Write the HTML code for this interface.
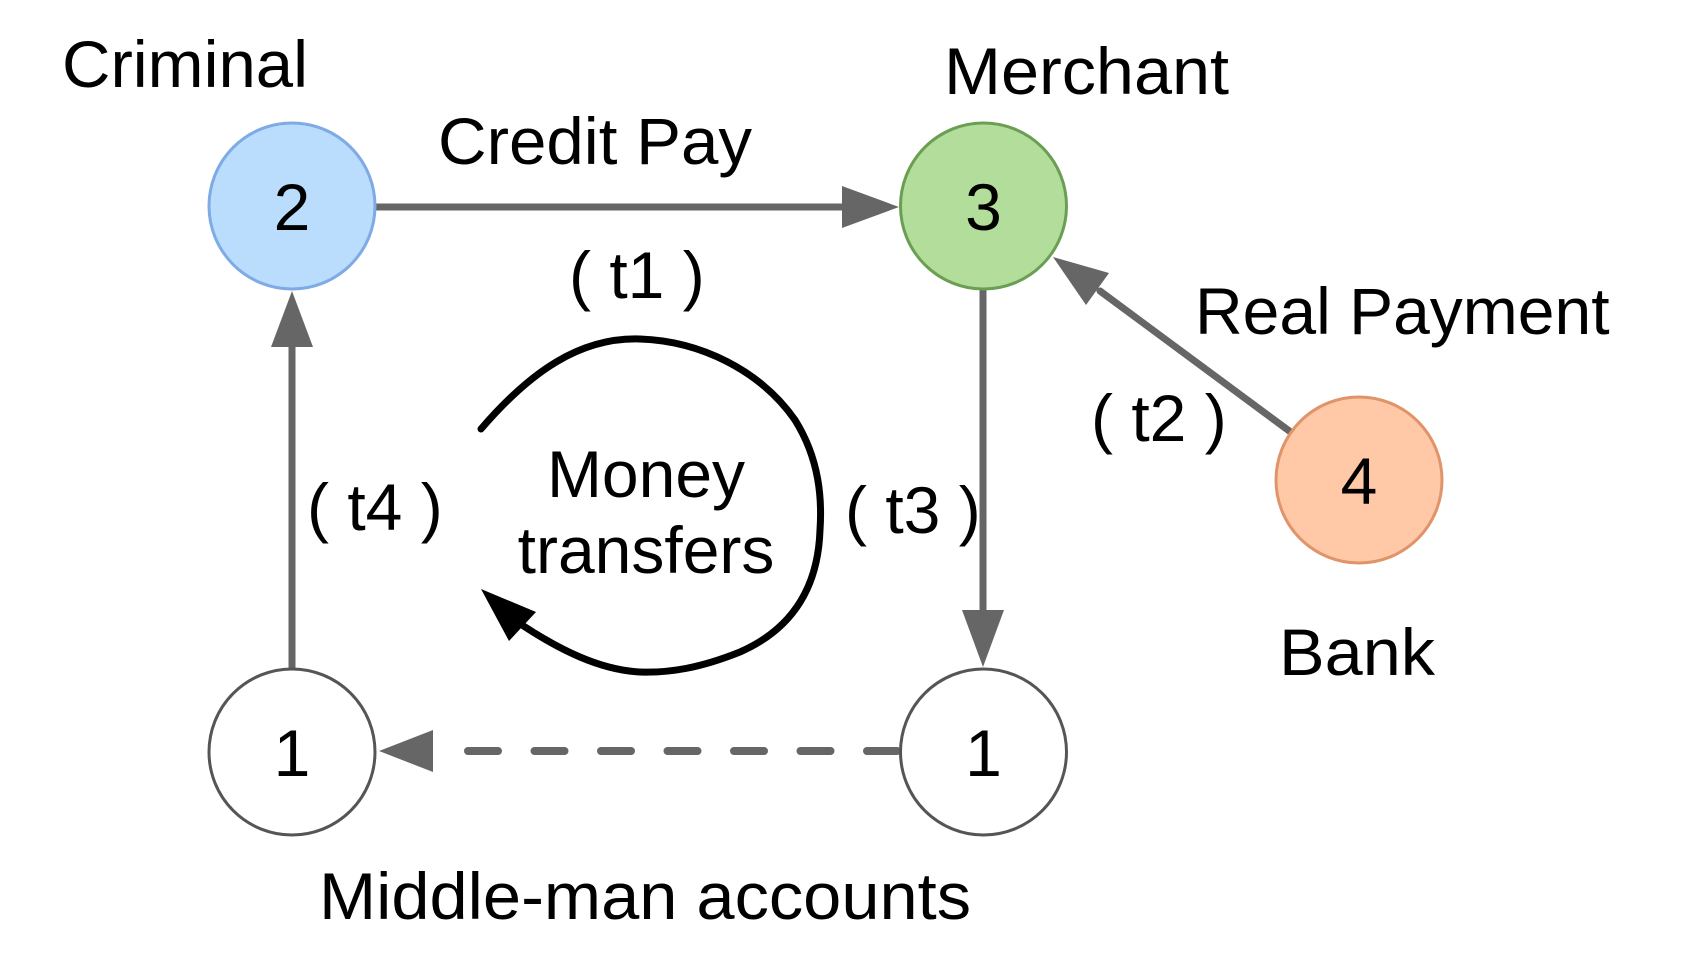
<!DOCTYPE html>
<html>
<head>
<meta charset="utf-8">
<style>
html,body{margin:0;padding:0;background:#fff;}
svg{display:block;}
text{font-family:"Liberation Sans",Arial,sans-serif;font-size:66px;fill:#000;}
</style>
</head>
<body>
<svg width="1704" height="954" viewBox="0 0 1704 954" xmlns="http://www.w3.org/2000/svg">
  <rect width="1704" height="954" fill="#fff"/>

  <!-- Labels -->
  <text x="62" y="87" textLength="246" lengthAdjust="spacingAndGlyphs">Criminal</text>
  <text x="944" y="94" textLength="285" lengthAdjust="spacingAndGlyphs">Merchant</text>
  <text x="438" y="164" textLength="314" lengthAdjust="spacingAndGlyphs">Credit Pay</text>
  <text x="569" y="298">( t1 )</text>
  <text x="1195" y="334">Real Payment</text>
  <text x="1091" y="441">( t2 )</text>
  <text x="307" y="530">( t4 )</text>
  <text x="845" y="533">( t3 )</text>
  <text x="646" y="497" text-anchor="middle">Money</text>
  <text x="646" y="573" text-anchor="middle">transfers</text>
  <text x="1279" y="675" textLength="156" lengthAdjust="spacingAndGlyphs">Bank</text>
  <text x="319" y="919" textLength="652" lengthAdjust="spacingAndGlyphs">Middle-man accounts</text>

  <!-- Edges -->
  <g stroke="#666" stroke-width="7" stroke-linecap="round" fill="none">
    <line x1="376" y1="207" x2="846" y2="207"/>
    <line x1="292" y1="668" x2="292" y2="343"/>
    <line x1="983" y1="290" x2="983" y2="614"/>
    <line x1="1292" y1="433" x2="1100" y2="291"/>
    <line x1="897" y1="751" x2="437" y2="751" stroke-width="8" stroke-dasharray="30 36.5"/>
  </g>
  <g fill="#666" stroke="none">
    <polygon points="899,207 842,186 842,228"/>
    <polygon points="292,291 271,347 313,347"/>
    <polygon points="983,667 962,610 1004,610"/>
    <polygon points="1053,257 1109,273 1086,305"/>
    <polygon points="379,751 433,730 433,772"/>
  </g>

  <!-- Money transfers loop -->
  <path d="M481,429 C530,372 580,337 640,339 C700,341 760,370 795,420 C820,460 822,500 820,530 C818,590 790,630 740,652 C700,668 670,673 640,672 C600,670 560,650 522,625"
        fill="none" stroke="#000" stroke-width="7" stroke-linecap="round"/>
  <polygon points="481,589 536,612 509,641" fill="#000"/>

  <!-- Nodes -->
  <circle cx="292" cy="206" r="83" fill="#badcfd" stroke="#7eaae6" stroke-width="3"/>
  <circle cx="983.5" cy="206" r="83" fill="#b3dd9b" stroke="#6a9f53" stroke-width="3"/>
  <circle cx="1359" cy="480" r="83" fill="#ffc8a6" stroke="#e0946a" stroke-width="3"/>
  <circle cx="292" cy="752" r="83" fill="#fff" stroke="#555" stroke-width="3"/>
  <circle cx="983.5" cy="752" r="83" fill="#fff" stroke="#555" stroke-width="3"/>

  <text x="292" y="230" text-anchor="middle">2</text>
  <text x="983.5" y="230" text-anchor="middle">3</text>
  <text x="1359" y="504" text-anchor="middle">4</text>
  <text x="292" y="776" text-anchor="middle">1</text>
  <text x="983.5" y="776" text-anchor="middle">1</text>
</svg>
</body>
</html>
